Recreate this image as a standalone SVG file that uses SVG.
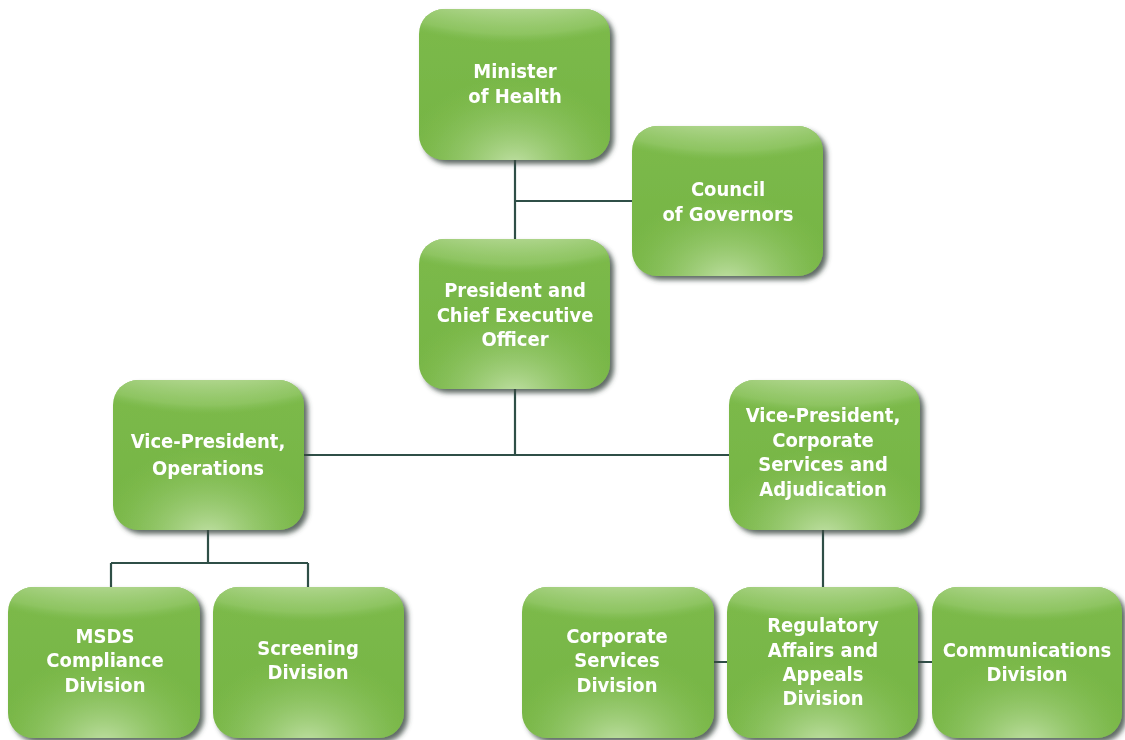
<svg xmlns="http://www.w3.org/2000/svg" width="1125" height="740" viewBox="0 0 1125 740">
  <defs>
    <linearGradient id="base" x1="0" y1="0" x2="0" y2="1">
      <stop offset="0" stop-color="#7cba4b"/>
      <stop offset="1" stop-color="#75b443"/>
    </linearGradient>
    <!-- curved glossy band along the top edge -->
    <radialGradient id="sheen" cx="0.5" cy="-1.37" r="1.6">
      <stop offset="0.85" stop-color="#b0d68e" stop-opacity="1"/>
      <stop offset="0.96" stop-color="#94c869" stop-opacity="0.75"/>
      <stop offset="1" stop-color="#86c058" stop-opacity="0"/>
    </radialGradient>
    <!-- soft light pool at the bottom centre -->
    <radialGradient id="glow" cx="0.5" cy="1.05" r="0.6">
      <stop offset="0" stop-color="#c2e1a7" stop-opacity="1"/>
      <stop offset="0.55" stop-color="#a4d17f" stop-opacity="0.45"/>
      <stop offset="1" stop-color="#8cc45e" stop-opacity="0"/>
    </radialGradient>
    <filter id="shadow" x="-10%" y="-10%" width="125%" height="125%">
      <feGaussianBlur in="SourceAlpha" stdDeviation="2.5"/>
      <feOffset dx="4" dy="4" result="b"/>
      <feFlood flood-color="#38463f" flood-opacity="0.8"/>
      <feComposite in2="b" operator="in"/>
      <feMerge>
        <feMergeNode/>
        <feMergeNode in="SourceGraphic"/>
      </feMerge>
    </filter>
    <style>
      .box { fill: url(#base); }
      .sheen { fill: url(#sheen); }
      .glow { fill: url(#glow); }
      .node { filter: url(#shadow); }
      .label { fill: #ffffff; font-family: "DejaVu Sans Condensed", "Roboto", sans-serif; font-weight: bold; font-size: 20px; text-anchor: middle; }
      .link { stroke: #2f4f47; stroke-width: 2.2; fill: none; }
    </style>
  </defs>

  <rect width="1125" height="740" fill="#ffffff"/>

  <!-- connectors -->
  <g id="connectors">
    <path class="link" d="M515 160 V239"/>
    <path class="link" d="M515 201 H632"/>
    <path class="link" d="M515 389 V455 M304 455 H729"/>
    <path class="link" d="M208 530 V563 M111 563 H308 M111 563 V587 M308 563 V587"/>
    <path class="link" d="M823 530 V587"/>
    <path class="link" d="M714 662 H727 M918 662 H932"/>
  </g>

  <!-- nodes -->
  <g id="minister" class="node">
    <rect class="box" x="419" y="9" width="191" height="151" rx="25"/>
    <rect class="glow" x="419" y="9" width="191" height="151" rx="25"/>
    <rect class="sheen" x="419" y="9" width="191" height="151" rx="25"/>
    <text class="label" x="515" y="78">Minister</text>
    <text class="label" x="515" y="103">of Health</text>
  </g>

  <g id="council" class="node">
    <rect class="box" x="632" y="126" width="191" height="150" rx="25"/>
    <rect class="glow" x="632" y="126" width="191" height="150" rx="25"/>
    <rect class="sheen" x="632" y="126" width="191" height="150" rx="25"/>
    <text class="label" x="728" y="196">Council</text>
    <text class="label" x="728" y="221">of Governors</text>
  </g>

  <g id="president" class="node">
    <rect class="box" x="419" y="239" width="191" height="150" rx="25"/>
    <rect class="glow" x="419" y="239" width="191" height="150" rx="25"/>
    <rect class="sheen" x="419" y="239" width="191" height="150" rx="25"/>
    <text class="label" x="515" y="297">President and</text>
    <text class="label" x="515" y="322">Chief Executive</text>
    <text class="label" x="515" y="346">Officer</text>
  </g>

  <g id="vp-operations" class="node">
    <rect class="box" x="113" y="380" width="191" height="150" rx="25"/>
    <rect class="glow" x="113" y="380" width="191" height="150" rx="25"/>
    <rect class="sheen" x="113" y="380" width="191" height="150" rx="25"/>
    <text class="label" x="208" y="448">Vice-President,</text>
    <text class="label" x="208" y="475">Operations</text>
  </g>

  <g id="vp-corporate" class="node">
    <rect class="box" x="729" y="380" width="191" height="150" rx="25"/>
    <rect class="glow" x="729" y="380" width="191" height="150" rx="25"/>
    <rect class="sheen" x="729" y="380" width="191" height="150" rx="25"/>
    <text class="label" x="823" y="422">Vice-President,</text>
    <text class="label" x="823" y="447">Corporate</text>
    <text class="label" x="823" y="471">Services and</text>
    <text class="label" x="823" y="496">Adjudication</text>
  </g>

  <g id="msds" class="node">
    <rect class="box" x="8" y="587" width="192" height="151" rx="25"/>
    <rect class="glow" x="8" y="587" width="192" height="151" rx="25"/>
    <rect class="sheen" x="8" y="587" width="192" height="151" rx="25"/>
    <text class="label" x="105" y="643">MSDS</text>
    <text class="label" x="105" y="667">Compliance</text>
    <text class="label" x="105" y="692">Division</text>
  </g>

  <g id="screening" class="node">
    <rect class="box" x="213" y="587" width="191" height="151" rx="25"/>
    <rect class="glow" x="213" y="587" width="191" height="151" rx="25"/>
    <rect class="sheen" x="213" y="587" width="191" height="151" rx="25"/>
    <text class="label" x="308" y="655">Screening</text>
    <text class="label" x="308" y="679">Division</text>
  </g>

  <g id="corporate-services" class="node">
    <rect class="box" x="522" y="587" width="192" height="151" rx="25"/>
    <rect class="glow" x="522" y="587" width="192" height="151" rx="25"/>
    <rect class="sheen" x="522" y="587" width="192" height="151" rx="25"/>
    <text class="label" x="617" y="643">Corporate</text>
    <text class="label" x="617" y="667">Services</text>
    <text class="label" x="617" y="692">Division</text>
  </g>

  <g id="regulatory" class="node">
    <rect class="box" x="727" y="587" width="191" height="151" rx="25"/>
    <rect class="glow" x="727" y="587" width="191" height="151" rx="25"/>
    <rect class="sheen" x="727" y="587" width="191" height="151" rx="25"/>
    <text class="label" x="823" y="632">Regulatory</text>
    <text class="label" x="823" y="657">Affairs and</text>
    <text class="label" x="823" y="681">Appeals</text>
    <text class="label" x="823" y="705">Division</text>
  </g>

  <g id="communications" class="node">
    <rect class="box" x="932" y="587" width="190" height="151" rx="25"/>
    <rect class="glow" x="932" y="587" width="190" height="151" rx="25"/>
    <rect class="sheen" x="932" y="587" width="190" height="151" rx="25"/>
    <text class="label" x="1027" y="657">Communications</text>
    <text class="label" x="1027" y="681">Division</text>
  </g>
</svg>
